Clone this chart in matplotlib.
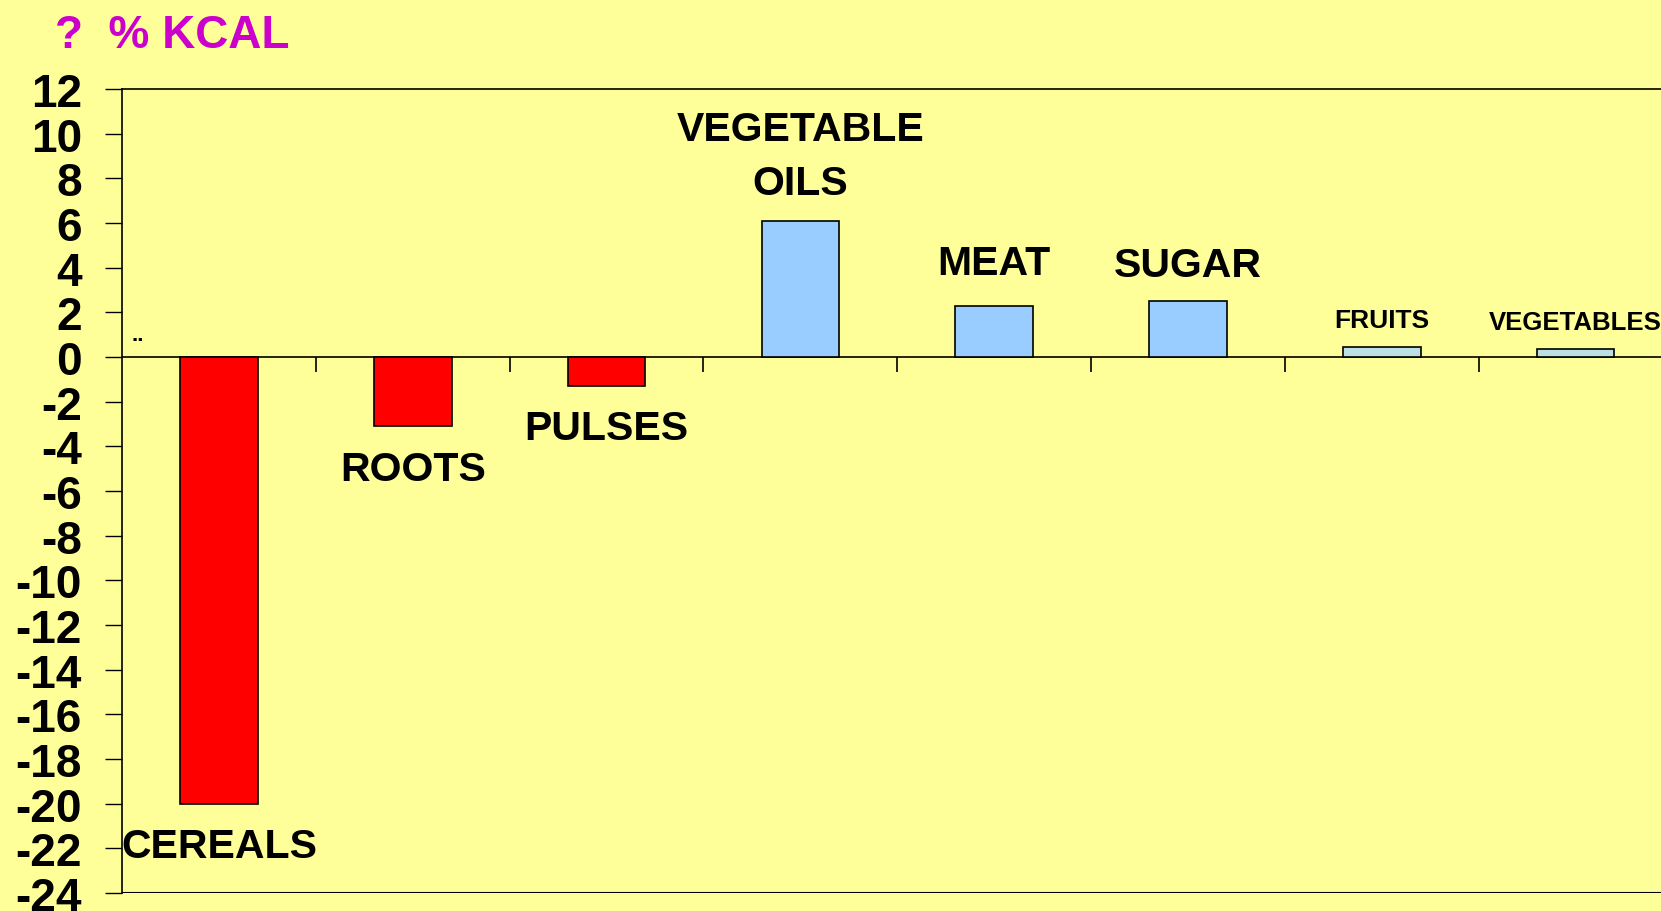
import matplotlib
matplotlib.use("Agg")
import matplotlib.pyplot as plt
import numpy as np

# data
categories = ["CEREALS", "ROOTS", "PULSES", "VEGETABLE\nOILS", "MEAT", "SUGAR", "FRUITS", "VEGETABLES"]
values = [-20.0, -3.1, -1.3, 6.1, 2.3, 2.5, 0.45, 0.35]
yticks = list(range(-24, 13, 2))

# layout for the category labels (data coords) and per-bar styling
label_y = [-21.9, -5.0, -3.2, 9.0, 4.2, 4.1, 1.65, 1.57]
label_size = [29.5, 29.5, 29.5, 29.5, 29.5, 29.5, 19, 18.5]
bar_colors = ["#FF0000", "#FF0000", "#FF0000", "#99CCFF", "#99CCFF", "#99CCFF", "#BBE0E3", "#BBE0E3"]

BG = "#FFFF99"
FONT = "Liberation Sans"

fig = plt.figure(figsize=(16.61, 9.12), dpi=100, facecolor=BG)
ax = fig.add_axes([0.0735, 0.0197, 0.9334, 0.8816], facecolor=BG)

x = np.arange(len(categories))
ax.bar(x, values, width=0.4, color=bar_colors, edgecolor="black", linewidth=1.2, zorder=3)

for i, name in enumerate(categories):
    ax.text(x[i], label_y[i], name, ha="center", va="center", fontsize=label_size[i],
            fontweight="bold", family=FONT, linespacing=1.55, zorder=4)

ax.text(-0.45, 1.0, "..", ha="left", va="center", fontsize=16, fontweight="bold", family=FONT)

ax.set_xlim(-0.5, len(categories) - 0.5)
ax.set_ylim(-24, 12)
ax.set_yticks(yticks)
ax.set_yticklabels([str(v) for v in yticks], fontsize=33, fontweight="bold", family=FONT)
ax.tick_params(axis="y", direction="out", length=12, width=1.0, pad=17)

# category axis sits on zero, ticks at category boundaries
ax.spines["bottom"].set_position(("data", 0))
ax.set_xticks(x[1:] - 0.5)
ax.set_xticklabels([])
ax.tick_params(axis="x", direction="out", length=11, width=1.2)
ax.axhline(-24, color="black", linewidth=1.5, zorder=5)
for s in ["left", "top", "bottom", "right"]:
    ax.spines[s].set_linewidth(1.2)

fig.text(0.033, 0.947, "?  % KCAL", color="#CC00CC", fontsize=33, fontweight="bold",
         family=FONT, ha="left", va="baseline")

fig.savefig("out.png", dpi=100, facecolor=BG)
